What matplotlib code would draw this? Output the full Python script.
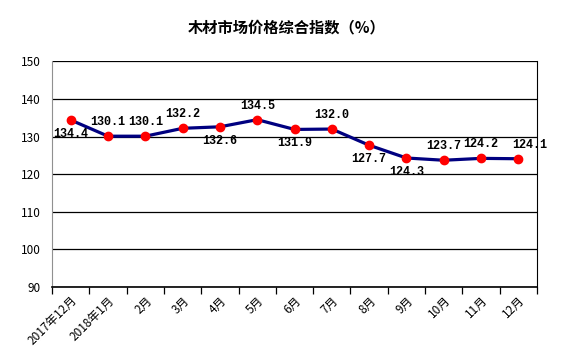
import matplotlib
matplotlib.use("Agg")
import matplotlib.pyplot as plt

plt.rcParams['font.family'] = ['Noto Sans CJK SC', 'DejaVu Sans']

months = ['2017年12月', '2018年1月', '2月', '3月', '4月', '5月', '6月',
          '7月', '8月', '9月', '10月', '11月', '12月']
values = [134.4, 130.1, 130.1, 132.2, 132.6, 134.5, 131.9,
          132.0, 127.7, 124.3, 123.7, 124.2, 124.1]
# label placement: 1 = above the point, -1 = below
label_side = [-1, 1, 1, 1, -1, 1, -1, 1, -1, -1, 1, 1, 1]

fig = plt.figure(figsize=(5.73, 3.49), dpi=100)
ax = fig.add_axes([0.091, 0.178, 0.846, 0.646])

x = [i + 0.5 for i in range(len(values))]
ax.plot(x, values, color='#000080', lw=2.3, zorder=3)
ax.plot(x, values, 'o', color='#ff0000', ms=6, zorder=4)

for i, (xi, v) in enumerate(zip(x, values)):
    dy = 14 if label_side[i] > 0 else -14
    dx = 11 if i == len(values) - 1 else 0
    ax.annotate(f'{v:.1f}', (xi, v), textcoords='offset pixels', xytext=(dx, dy),
                ha='center', va='center', fontsize=8.5, fontweight='bold',
                family='Liberation Mono', zorder=5)

ax.set_xlim(0, len(values))
ax.set_ylim(90, 150)
ax.set_yticks(range(90, 151, 10))
ax.yaxis.grid(True, color='black', lw=0.9)
ax.set_axisbelow(True)

ax.set_xticks(range(len(values) + 1), minor=False)
ax.set_xticklabels([])
ax.set_xticks(x, minor=True)
ax.set_xticklabels(months, minor=True, rotation=45, ha='right', va='top',
                   rotation_mode='anchor', fontsize=8.5)
ax.tick_params(axis='x', which='major', length=5, width=0.9, direction='out')
ax.tick_params(axis='x', which='minor', length=0, pad=5)
ax.tick_params(axis='y', length=0, labelsize=8.5, pad=8)

ax.spines['left'].set_color('#909090')
ax.spines['top'].set_visible(False)
ax.spines['right'].set_color('black')
ax.spines['bottom'].set_color('black')
ax.spines['bottom'].set_linewidth(1.2)

fig.text(0.5, 0.92, '木材市场价格综合指数（%）', ha='center', va='center',
         fontsize=11, fontweight='bold')

fig.savefig('out.png', dpi=100)
